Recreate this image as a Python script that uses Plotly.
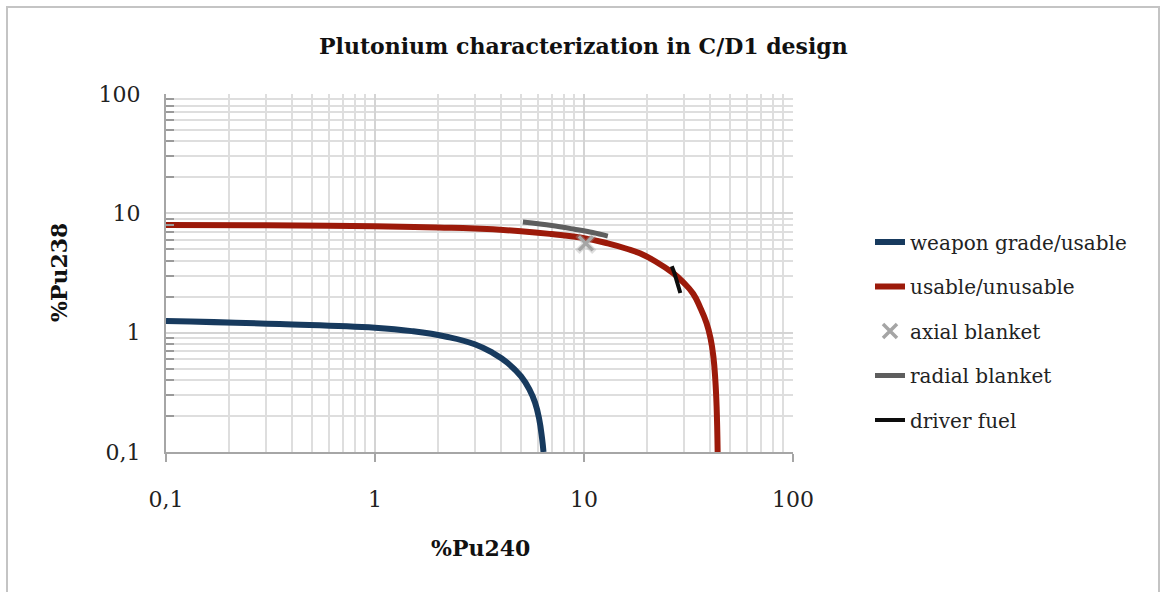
import plotly.graph_objects as go

# ---- data ----
weapon_x = [0.1, 0.35, 1.0, 1.5, 2.2, 3.0, 3.67, 4.3, 5.0, 5.5, 5.83, 6.1, 6.3, 6.4]
weapon_y = [1.25, 1.18, 1.10, 1.03, 0.925, 0.80, 0.675, 0.56, 0.43, 0.33, 0.26, 0.19, 0.13, 0.10]

usable_x = [0.1, 0.3, 1, 2, 3, 5, 7, 10, 13, 16, 18.5, 22, 26.7, 30, 33.3, 36, 38.6, 40.3, 41.6, 42.5, 43.1, 43.6]
usable_y = [8.0, 7.95, 7.8, 7.6, 7.45, 7.08, 6.7, 6.2, 5.6, 5.05, 4.62, 3.95, 3.15, 2.62, 2.12, 1.62, 1.2, 0.9, 0.63, 0.4, 0.24, 0.1]

axial_x = [10.2]
axial_y = [5.6]

radial_x = [5.1, 7.0, 9.0, 11.0, 13.0]
radial_y = [8.45, 7.9, 7.35, 6.9, 6.45]

driver_x = [26.3, 27.0, 27.8, 28.9]
driver_y = [3.6, 3.2, 2.7, 2.15]

title_text = "Plutonium characterization in C/D1 design"
x_title = "%Pu240"
y_title = "%Pu238"

FONT = "DejaVu Serif"

fig = go.Figure()
fig.add_trace(go.Scatter(x=weapon_x, y=weapon_y, mode="lines", name="weapon grade/usable",
                         line=dict(color="#173A5E", width=6, shape="spline", smoothing=1.3),
                         legendgroup="a"))
fig.add_trace(go.Scatter(x=usable_x, y=usable_y, mode="lines", name="usable/unusable",
                         line=dict(color="#9C1A0A", width=6, shape="spline", smoothing=1.3),
                         legendgroup="b"))
# soft shadow under the axial blanket marker
fig.add_trace(go.Scatter(x=axial_x, y=axial_y, mode="markers", showlegend=False, hoverinfo="skip",
                         marker=dict(symbol="x-thin", size=17, color="rgba(160,160,160,0.35)",
                                     line=dict(color="rgba(160,160,160,0.35)", width=6))))
fig.add_trace(go.Scatter(x=axial_x, y=axial_y, mode="markers", name="axial blanket",
                         marker=dict(symbol="x-thin", size=14, color="#A5A5A5",
                                     line=dict(color="#A5A5A5", width=3.5)),
                         legendgroup="c"))
fig.add_trace(go.Scatter(x=radial_x, y=radial_y, mode="lines", name="radial blanket",
                         line=dict(color="#5E5E5E", width=5, shape="spline"), legendgroup="d"))
fig.add_trace(go.Scatter(x=driver_x, y=driver_y, mode="lines", name="driver fuel",
                         line=dict(color="#0D0D0D", width=4, shape="spline"), legendgroup="e"))

axis_common = dict(
    type="log", range=[-1, 2], tickmode="linear", tick0=0, dtick=1,
    showgrid=True, gridcolor="#D4D4D4", gridwidth=1.5,
    showline=True, linecolor="#A6A6A6", linewidth=2,
    tickfont=dict(family=FONT, size=22, color="#222222"),
    zeroline=False,
)

fig.update_xaxes(**axis_common, ticks="outside", ticklen=8, tickcolor="#A6A6A6", tickwidth=1.5,
                 ticklabelstandoff=19,
                 minor=dict(dtick="D1", showgrid=True, gridcolor="#DEDEDE", gridwidth=1.5))
fig.update_yaxes(**axis_common, ticks="", ticklabelstandoff=19,
                 minor=dict(dtick="D1", showgrid=True, gridcolor="#DEDEDE", gridwidth=1.5,
                            ticks="inside", ticklen=8, tickcolor="#9A9A9A", tickwidth=1.5))

W, H = 1160, 592
L, R, T, B = 166, 367, 94, 140
pw, ph = W - L - R, H - T - B

def px_x(p):
    return (p - L) / pw

def px_y(p):
    return (H - B - p) / ph

fig.update_layout(
    width=W, height=H, autosize=False,
    margin=dict(l=L, r=R, t=T, b=B),
    paper_bgcolor="white", plot_bgcolor="white",
    separators=", ",
    showlegend=True,
    legend=dict(x=px_x(870), xanchor="left", y=px_y(331), yanchor="middle",
                font=dict(family=FONT, size=20, color="#222222"),
                traceorder="grouped", tracegroupgap=15.5, bgcolor="rgba(0,0,0,0)"),
    font=dict(family=FONT),
    annotations=[
        dict(text="<b>" + title_text + "</b>", x=px_x(583), y=px_y(46), xref="paper", yref="paper",
             xanchor="center", yanchor="middle", showarrow=False,
             font=dict(family=FONT, size=22, color="#111111")),
        dict(text="<b>" + x_title + "</b>", x=px_x(480), y=px_y(548), xref="paper", yref="paper",
             xanchor="center", yanchor="middle", showarrow=False,
             font=dict(family=FONT, size=22, color="#111111")),
        dict(text="<b>" + y_title + "</b>", x=px_x(59), y=px_y(273), xref="paper", yref="paper",
             xanchor="center", yanchor="middle", showarrow=False, textangle=-90,
             font=dict(family=FONT, size=22, color="#111111")),
    ],
    shapes=[
        dict(type="rect", xref="paper", yref="paper", x0=px_x(7), x1=px_x(1159),
             y0=px_y(7), y1=px_y(620), line=dict(color="#C4C4C4", width=2), layer="below"),
    ],
)

fig.write_html("out.html")
